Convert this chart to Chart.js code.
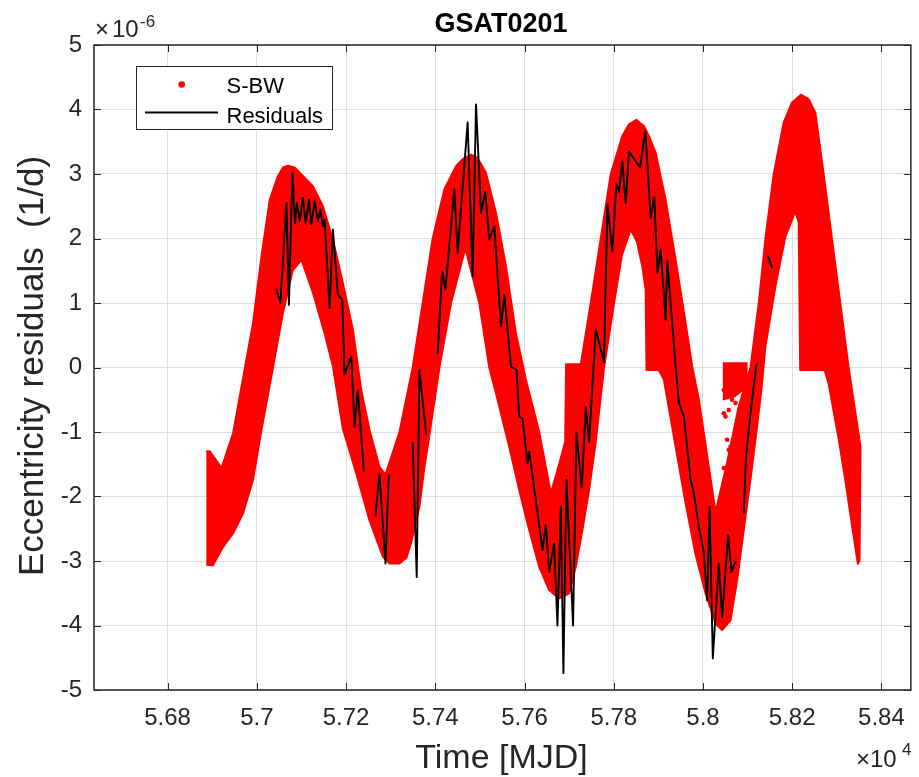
<!DOCTYPE html>
<html><head><meta charset="utf-8">
<script src="https://cdn.jsdelivr.net/npm/chart.js@4.4.1/dist/chart.umd.min.js"></script>
<style>html,body{margin:0;padding:0;background:#fff}canvas{display:block}</style>
</head><body>
<canvas id="c" width="919" height="777"></canvas>
<script>
// ---- tick labels ----
const xTicks = [56800, 57000, 57200, 57400, 57600, 57800, 58000, 58200, 58400];
const xTickLabels = ['5.68', '5.7', '5.72', '5.74', '5.76', '5.78', '5.8', '5.82', '5.84'];
const yTicks = [-5, -4, -3, -2, -1, 0, 1, 2, 3, 4, 5];

// ---- S-BW band (units 1e-6 1/d), upper and lower envelope of the point cloud ----
const bandUpperTime = [56886.8, 56894.6, 56920.8, 56946.8, 56968.5, 56991.5, 57010.3, 57028.9, 57047.4, 57058.6, 57069.8, 57084.8, 57096.0, 57125.7, 57148.1, 57170.5, 57192.8, 57215.2, 57234.0, 57252.6, 57274.9, 57288.4, 57319.7, 57349.4, 57371.8, 57394.2, 57420.3, 57446.5, 57461.3, 57480.1, 57494.8, 57513.6, 57536.0, 57558.4, 57580.7, 57603.1, 57632.9, 57659.0, 57677.6, 57691.1, 57693.3, 57726.2, 57748.5, 57770.9, 57793.3, 57819.2, 57834.2, 57850.5, 57867.8, 57878.9, 57893.9, 57916.3, 57938.7, 57961.1, 57975.8, 57990.8, 58028.2, 58053.4, 58080.3, 58106.5, 58125.1, 58140.0, 58158.6, 58181.0, 58199.6, 58219.7, 58236.9, 58251.9, 58270.5, 58289.0, 58307.8, 58326.4, 58353.2];
const bandUpper = [-1.30, -1.30, -1.56, -1.02, -0.19, 0.69, 1.72, 2.60, 2.97, 3.10, 3.13, 3.10, 3.02, 2.81, 2.50, 1.98, 1.31, 0.59, -0.35, -0.97, -1.54, -1.66, -1.00, 0.00, 1.00, 2.00, 2.76, 3.12, 3.23, 3.30, 3.25, 3.02, 2.40, 1.57, 0.53, -0.19, -1.00, -1.95, -1.50, -1.15, 0.05, 0.05, 1.00, 2.00, 3.00, 3.59, 3.77, 3.84, 3.74, 3.59, 3.33, 2.60, 1.67, 0.69, 0.02, -0.50, -2.24, -1.50, -0.60, 0.00, 1.00, 2.00, 3.00, 3.80, 4.11, 4.23, 4.16, 3.95, 3.00, 2.00, 1.00, 0.00, -1.23];
const bandLowerTime = [56886.8, 56901.3, 56924.4, 56946.8, 56969.1, 56991.5, 57010.3, 57036.2, 57058.6, 57080.3, 57099.8, 57125.7, 57151.9, 57170.5, 57192.8, 57222.8, 57252.6, 57282.3, 57297.3, 57319.7, 57335.3, 57346.5, 57364.4, 57375.6, 57386.8, 57409.2, 57435.3, 57467.3, 57498.6, 57521.0, 57536.0, 57565.8, 57588.1, 57610.5, 57632.9, 57655.2, 57677.6, 57700.0, 57715.0, 57729.7, 57744.7, 57759.7, 57778.3, 57800.7, 57818.6, 57838.0, 57852.1, 57864.0, 57871.6, 57873.4, 57901.3, 57912.5, 57938.7, 57961.1, 57983.4, 58005.8, 58028.2, 58042.9, 58061.7, 58076.5, 58091.4, 58106.5, 58121.2, 58131.7, 58140.0, 58162.4, 58184.8, 58207.1, 58214.5, 58217.9, 58272.7, 58281.6, 58304.0, 58319.0, 58333.1, 58347.2, 58351.0];
const bandLower = [-3.06, -3.07, -2.78, -2.57, -2.26, -1.74, -0.97, 0.00, 0.85, 1.50, 1.67, 1.16, 0.53, 0.02, -0.95, -1.64, -2.37, -2.93, -3.04, -3.04, -2.95, -2.70, -2.16, -1.55, -1.05, 0.00, 1.00, 1.85, 1.00, 0.00, -0.40, -1.23, -1.90, -2.52, -3.09, -3.45, -3.58, -3.50, -3.09, -2.52, -1.90, -1.15, 0.00, 1.00, 1.75, 2.14, 1.95, 1.57, 1.20, -0.04, -0.04, -0.19, -1.23, -2.10, -2.90, -3.50, -3.97, -4.07, -3.92, -3.30, -2.52, -1.74, -0.92, -0.30, 0.33, 1.26, 2.03, 2.42, 2.25, -0.04, -0.04, -0.25, -1.10, -1.74, -2.40, -3.04, -3.00];

// dense S-BW cluster near zero before the 4th arch
const clusterTime = [58044.5, 58098.2, 58098.2, 58071.4, 58044.5];
const clusterValue = [0.07, 0.07, -0.30, -0.45, -0.50];
// isolated S-BW points below that cluster
const dotTime = [58046.7, 58057.9, 58050.5, 58072.9, 58054.1, 58057.9, 58046.7, 58050.5, 58057.9, 58065.3, 58080.3, 58061.7, 58054.1, 58046.7];
const dotValue = [-0.35, -0.66, -0.76, -0.55, -1.12, -1.28, -1.56, -1.74, -1.90, -0.50, -0.30, -1.23, -1.54, -0.71];

// ---- Residuals (null = gap) ----
const resTime = [
 57043.8, 57052.8, 57066.2, 57072.0, 57079.6, 57085.5, 57089.9, 57096.0, 57103.4, 57109.4, 57116.8, 57122.1, 57129.5, 57136.9, 57142.3, 57148.1, 57151.9, 57163.1, 57170.5, 57181.6, 57191.5, 57196.6, 57211.6, 57219.0, 57226.4, 57239.8,
 null,
 57266.0, 57274.9, 57288.4, 57295.7,
 null,
 57349.4, 57358.4, 57364.4, 57379.4,
 null,
 57405.4, 57415.2, 57422.6, 57442.7, 57450.1, 57472.5, 57483.7, 57491.3, 57502.5, 57512.1, 57521.0, 57532.2, 57547.2, 57554.6, 57569.6, 57582.1, 57588.1, 57595.5, 57606.7, 57610.5, 57640.3, 57647.9, 57655.2, 57666.4, 57673.8, 57681.4, 57687.2, 57694.0, 57708.9, 57716.3, 57728.4, 57737.3, 57744.7, 57759.7, 57778.3, 57785.7, 57796.9, 57805.8, 57811.8, 57819.2, 57826.8, 57834.2, 57858.8, 57870.7, 57882.8, 57890.8, 57898.0, 57905.1, 57916.3, 57919.9, 57938.7, 57946.1, 57957.3, 57972.2, 57979.6, 57990.8, 57998.2, 58002.0, 58009.4, 58014.8, 58022.1, 58035.5, 58042.9, 58056.4, 58064.0, 58072.9,
 null,
 58091.4, 58096.6, 58102.6, 58110.1, 58119.9,
 null,
 58146.3, 58154.8];
const resValue = [
 1.21, 1.00, 2.55, 0.97, 3.02, 2.24, 2.55, 2.27, 2.63, 2.24, 2.60, 2.22, 2.58, 2.27, 2.45, 2.19, 2.29, 0.92, 2.14, 1.13, 1.05, -0.11, 0.17, -0.92, -0.35, -1.61,
 null,
 -2.29, -1.64, -3.04, -1.67,
 null,
 -1.17, -3.25, -0.04, -1.02,
 null,
 0.22, 1.49, 1.21, 2.76, 1.78, 3.80, 1.41, 4.08, 2.40, 2.72, 1.98, 2.19, 0.64, 1.13, 0.02, -0.04, -0.76, -0.79, -1.48, -1.30, -2.83, -2.44, -3.17, -2.73, -4.00, -2.16, -4.74, -1.74, -4.00, -1.02, -1.86, -0.61, -1.15, 0.59, 0.08, 2.53, 1.80, 2.84, 2.72, 3.20, 2.55, 3.35, 3.10, 3.67, 2.32, 2.64, 1.47, 1.83, 0.74, 1.66, 0.02, -0.55, -0.76, -1.74, -1.95, -2.47, -2.73, -2.88, -3.61, -2.16, -4.51, -3.04, -3.87, -2.60, -3.17, -3.01,
 null,
 -2.26, -1.38, -0.97, -0.50, 0.05,
 null,
 1.72, 1.55];

// ---- build library data ----
const pts = (xs, ys) => xs.map((t, i) => ({x: t, y: ys[i]}));
const bandPolygon = pts(bandUpperTime, bandUpper).concat(pts(bandLowerTime, bandLower).reverse());
const clusterPolygon = pts(clusterTime, clusterValue);
const FONT = '"Liberation Sans", Arial, Helvetica, sans-serif';
const AX = '#262626';

const decor = {
  id: 'decor',
  afterDraw(chart) {
    const {ctx, chartArea: a, scales: {x, y}} = chart;
    ctx.save();
    // inward ticks
    ctx.strokeStyle = AX; ctx.lineWidth = 1;
    ctx.beginPath();
    xTicks.forEach(v => { const p = Math.round(x.getPixelForValue(v)) + 0.5;
      ctx.moveTo(p, a.bottom); ctx.lineTo(p, a.bottom - 7); ctx.moveTo(p, a.top); ctx.lineTo(p, a.top + 7); });
    yTicks.forEach(v => { const p = Math.round(y.getPixelForValue(v)) + 0.5;
      ctx.moveTo(a.left, p); ctx.lineTo(a.left + 7, p); ctx.moveTo(a.right, p); ctx.lineTo(a.right - 7, p); });
    ctx.stroke();
    // frame
    ctx.lineWidth = 1.5;
    ctx.strokeRect(a.left, a.top, a.right - a.left, a.bottom - a.top);
    // title
    ctx.fillStyle = '#000';
    ctx.textBaseline = 'alphabetic';
    ctx.textAlign = 'center';
    ctx.font = 'bold 27px ' + FONT;
    ctx.fillText('GSAT0201', 501, 31.5);
    // axis titles
    ctx.fillStyle = AX;
    ctx.font = '34px ' + FONT;
    ctx.fillText('Time [MJD]', 501.5, 768);
    ctx.save();
    ctx.translate(43, 366);
    ctx.rotate(-Math.PI / 2);
    ctx.font = '35px ' + FONT;
    ctx.fillText('Eccentricity residuals  (1/d)', 0, 0);
    ctx.restore();
    // exponent labels
    ctx.textAlign = 'left';
    ctx.font = '24px ' + FONT;
    ctx.fillText('\u00d7', 95, 36.5);
    ctx.fillText('10', 112, 36.5);
    ctx.font = '17px ' + FONT;
    ctx.fillText('-6', 140, 26.5);
    ctx.font = '24px ' + FONT;
    ctx.fillText('\u00d7', 856, 766.5);
    ctx.fillText('10', 870, 766.5);
    ctx.font = '17px ' + FONT;
    ctx.fillText('4', 902, 755);
    // legend
    ctx.fillStyle = '#fff';
    ctx.fillRect(136.5, 66.5, 196, 63);
    ctx.strokeStyle = AX; ctx.lineWidth = 1;
    ctx.strokeRect(136.5, 66.5, 196, 63);
    ctx.fillStyle = '#ff0000';
    ctx.beginPath(); ctx.arc(181.7, 84.5, 3.3, 0, Math.PI * 2); ctx.fill();
    ctx.strokeStyle = '#000'; ctx.lineWidth = 1.9;
    ctx.beginPath(); ctx.moveTo(145, 112.5); ctx.lineTo(218, 112.5); ctx.stroke();
    ctx.fillStyle = '#000';
    ctx.font = '22px ' + FONT;
    ctx.fillText('S-BW', 226.5, 92.5);
    ctx.fillText('Residuals', 226.5, 123);
    ctx.restore();
  }
};

new Chart(document.getElementById('c'), {
  type: 'scatter',
  data: {
    datasets: [
      { label: 'Residuals', data: pts(resTime, resValue), showLine: true, spanGaps: false,
        borderColor: '#000', borderWidth: 1.9, pointRadius: 0, fill: false, order: 0, tension: 0,
        borderJoinStyle: 'round', borderCapStyle: 'round' },
      { label: 'S-BW', data: bandPolygon, showLine: true, fill: 'shape',
        backgroundColor: '#ff0000', borderColor: '#ff0000', borderWidth: 2, pointRadius: 0, order: 3, tension: 0,
        borderJoinStyle: 'round' },
      { label: 'S-BW cluster', data: clusterPolygon, showLine: true, fill: 'shape',
        backgroundColor: '#ff0000', borderColor: '#ff0000', borderWidth: 1.5, pointRadius: 0, order: 2, tension: 0 },
      { label: 'S-BW points', data: pts(dotTime, dotValue), showLine: false,
        backgroundColor: '#ff0000', borderColor: '#ff0000', pointRadius: 2.3, borderWidth: 0, order: 1 }
    ]
  },
  options: {
    responsive: false, animation: false, devicePixelRatio: 1, events: [],
    layout: { padding: { top: 45, right: 6.5, left: 0, bottom: 0 } },
    plugins: { legend: { display: false }, title: { display: false }, tooltip: { enabled: false } },
    scales: {
      x: {
        type: 'linear', min: 56635, max: 58466,
        afterBuildTicks: s => { s.ticks = xTicks.map(v => ({value: v})); },
        afterFit: s => { s.height = 87; },
        grid: { color: '#dfdfdf', lineWidth: 1, drawTicks: false },
        border: { display: false },
        ticks: { padding: 14, color: AX, font: { family: FONT, size: 24 }, maxRotation: 0, autoSkip: false,
                 callback: v => xTickLabels[xTicks.indexOf(v)] }
      },
      y: {
        type: 'linear', min: -5, max: 5,
        afterBuildTicks: s => { s.ticks = yTicks.map(v => ({value: v})); },
        afterFit: s => { s.width = 94; },
        grid: { color: '#dfdfdf', lineWidth: 1, drawTicks: false },
        border: { display: false },
        ticks: { padding: 12, color: AX, font: { family: FONT, size: 24 }, autoSkip: false,
                 callback: v => String(v) }
      }
    }
  },
  plugins: [decor]
});
</script>
</body></html>
